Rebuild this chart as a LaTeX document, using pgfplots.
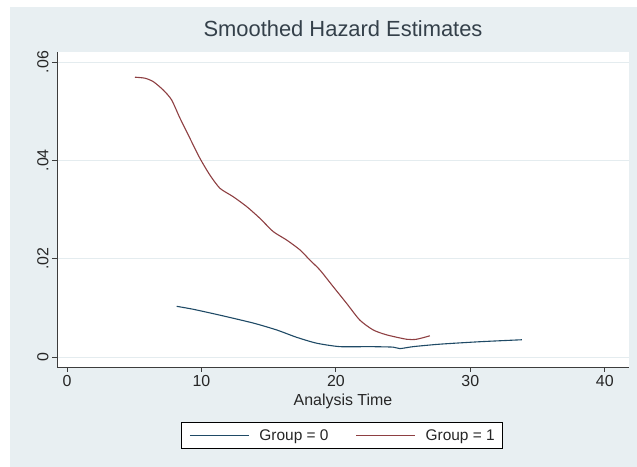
\documentclass[border=0pt]{standalone}
\usepackage{pgfplots}
\pgfplotsset{compat=1.18}
\usepackage{fontspec}
\setmainfont{Liberation Sans}
\definecolor{bgcol}{HTML}{E8EFF2}
\definecolor{gridcol}{HTML}{E4ECEF}
\definecolor{axcol}{HTML}{3C3C3C}
\definecolor{titlecol}{HTML}{34404A}
\definecolor{gzero}{HTML}{1F4A66}
\definecolor{gone}{HTML}{8E3F42}
\begin{document}
\begin{tikzpicture}[x=1bp,y=1bp]
\fill[white] (0,0) rectangle (637,467);
\fill[bgcol] (10,0) rectangle (637,460);
\begin{axis}[
  at={(57bp,100bp)}, anchor=south west,
  scale only axis, width=572bp, height=315bp,
  xmin=-0.74, xmax=41.8, ymin=-0.00204, ymax=0.06203,
  axis background/.style={fill=white},
  axis x line*=bottom, axis y line*=left,
  axis line style={-, color=axcol, line width=0.9bp},
  tick style={color=axcol, line width=0.9bp},
  tick align=outside, major tick length=5bp,
  scaled y ticks=false, scaled x ticks=false,
  xtick={0,10,20,30,40}, xticklabels={0,10,20,30,40},
  ytick={0,0.02,0.04,0.06}, yticklabels={0,.02,.04,.06},
  minor tick num=0,
  ticklabel style={font=\fontsize{16}{16}\selectfont, text=black!85},
  yticklabel style={rotate=90, anchor=south},
  ymajorgrids, grid style={color=gridcol, line width=0.9bp},
  xlabel={Analysis Time},
  xlabel style={at={(axis description cs:0.5,-0.1238)}, anchor=base, font=\fontsize{16}{16}\selectfont, text=black!85},
  title={Smoothed Hazard Estimates},
  title style={at={(axis description cs:0.5,1.0295)}, anchor=base, font=\fontsize{22}{22}\selectfont, text=titlecol},
  legend columns=2,
  legend style={at={(axis description cs:0.4983,-0.2175)}, anchor=center,
    draw=black, line width=0.8bp, fill=white,
    inner xsep=8bp, inner ysep=7bp,
    nodes={inner sep=0pt, font=\fontsize{15.5}{15.5}\selectfont, text=black!85},
    /tikz/every odd column/.append style={column sep=10bp},
    /tikz/every even column/.append style={column sep=27bp}},
  legend image code/.code={\draw[#1] (0bp,0bp) -- (59bp,0bp);},
]
\addplot[gzero, line width=1.1bp, smooth, tension=0.4] coordinates {
(8.16,0.0103) (9.39,0.0097) (11.38,0.0085) (13.85,0.0069) (15.59,0.0055)
(17.08,0.0040) (18.57,0.0028) (20.3,0.0021) (22.53,0.0021) (24.26,0.0020)
(24.76,0.0017) (25.75,0.0021) (27.73,0.0026) (30.71,0.0031) (33.83,0.0035)
};
\addlegendentry{Group = 0}
\addplot[gone, line width=1.1bp, smooth, tension=0.4] coordinates {
(5.06,0.0569) (5.8,0.0567) (6.42,0.0560) (7.16,0.0543) (7.78,0.0523)
(8.4,0.0486) (9.14,0.0445) (9.89,0.0404) (10.63,0.0370) (11.38,0.0343)
(12.36,0.0326) (13.36,0.0306) (14.35,0.0282) (15.34,0.0255) (16.33,0.0238)
(17.32,0.0218) (18.07,0.0197) (18.81,0.0177) (19.8,0.0143) (20.8,0.0109)
(21.78,0.0075) (22.77,0.0055) (23.77,0.0045) (25.26,0.0036) (26.0,0.0036)
(26.99,0.0043)
};
\addlegendentry{Group = 1}
\end{axis}
\pgfresetboundingbox
\path (0,0) rectangle (637,467);
\end{tikzpicture}
\end{document}
